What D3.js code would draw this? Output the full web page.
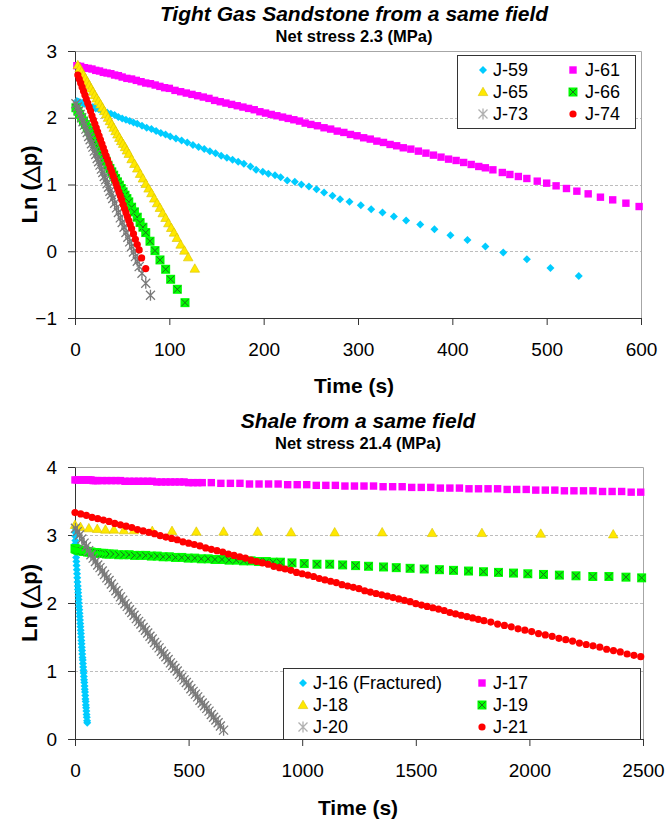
<!DOCTYPE html>
<html>
<head>
<meta charset="utf-8">
<script src="https://cdn.jsdelivr.net/npm/d3@7"></script>
<style>
    html, body { margin: 0; padding: 0; background: #fff; }
    svg { display: block; font-family: "Liberation Sans", Arial, sans-serif; }
</style>
</head>
<body>
<div id="chart"></div>
<script>
// ---------- top panel: tight gas sandstone ----------
var topXTicks = [0, 100, 200, 300, 400, 500, 600];
var topYTicks = [-1, 0, 1, 2, 3];
var topNames = ['J-59', 'J-61', 'J-65', 'J-66', 'J-73', 'J-74'];

var j59T = [2,4,6,8,10,13,16,19,22,25,28,31,34,38,42,46,50,54,58,62,66,71,76,81,86,91,96,101,107,113,119,125,131,137,143,149,155,161,167,173,179,
            186,192,199,205,212,218,225,233,240,248,256,264,273,281,291,303,314,326,338,351,366,381,398,416,435,454,479,504,534];
var j59V = [2.25,2.24,2.23,2.22,2.21,2.19,2.17,2.16,2.14,2.13,2.11,2.09,2.08,2.06,2.04,2.01,1.99,1.97,1.95,1.93,1.91,1.88,1.85,1.83,1.80,1.77,1.75,1.72,1.69,1.66,1.63,1.59,1.56,1.53,1.50,1.47,1.43,1.40,1.37,1.34,1.31,
            1.27,1.22,1.19,1.16,1.14,1.11,1.06,1.04,1.00,0.97,0.93,0.88,0.83,0.78,0.74,0.69,0.63,0.58,0.52,0.46,0.40,0.33,0.24,0.17,0.07,-0.02,-0.12,-0.25,-0.37];

var j61T = [2,6,10,14,18,22,26,30,34,38,42,46,50,55,60,65,70,75,80,85,90,95,100,106,112,118,124,130,136,142,148,154,160,166,172,178,184,190,196,202,208,214,220,226,232,238,244,250,
            257,264,271,278,285,292,299,306,313,320,327,334,341,348,356,364,372,380,388,396,404,412,420,428,435,443,453,461,470,479,490,500,510,521,532,544,557,570,584,598];
var j61V = [2.78,2.77,2.75,2.74,2.73,2.71,2.70,2.68,2.67,2.66,2.64,2.63,2.61,2.59,2.58,2.56,2.54,2.52,2.51,2.49,2.47,2.45,2.44,2.41,2.39,2.37,2.35,2.33,2.31,2.29,2.26,2.24,2.22,2.20,2.18,2.16,2.14,2.12,2.09,2.07,2.05,2.03,2.01,1.99,1.97,1.95,1.92,1.90,
            1.88,1.85,1.83,1.80,1.78,1.75,1.73,1.70,1.68,1.65,1.63,1.60,1.58,1.55,1.53,1.50,1.47,1.44,1.41,1.38,1.36,1.33,1.30,1.27,1.25,1.22,1.18,1.15,1.12,1.09,1.05,1.02,0.98,0.94,0.90,0.86,0.81,0.77,0.72,0.67];

var j65T = [3,5,7,9,11,13,15,17,19,21,23,25,27,29,31,33,35,37,39,41,43,45,47,49,51,53,55,57,60,63,66,69,72,75,78,81,84,87,90,93,96,99,102,105,108,112,116,120,127];
var j65V = [2.79,2.74,2.69,2.64,2.59,2.54,2.49,2.44,2.39,2.34,2.29,2.25,2.20,2.15,2.10,2.05,2.00,1.95,1.90,1.85,1.80,1.75,1.70,1.65,1.61,1.56,1.51,1.46,1.38,1.31,1.24,1.16,1.09,1.01,0.94,0.87,0.79,0.72,0.65,0.57,0.50,0.42,0.35,0.28,0.20,0.10,0.01,-0.09,-0.26];

var j66T = [1,3,5,7,9,11,13,15,17,19,21,23,25,27,29,31,33,35,37,39,41,43,45,47,49,51,53,55,57,60,63,66,69,72,75,79.5,84.8,90.1,96.1,101.4,108.5,116.6];
var j66V = [2.15,2.10,2.05,2.00,1.95,1.90,1.85,1.80,1.75,1.70,1.65,1.60,1.55,1.50,1.45,1.40,1.35,1.29,1.24,1.19,1.14,1.09,1.04,0.99,0.94,0.89,0.84,0.79,0.74,0.66,0.59,0.51,0.43,0.36,0.28,0.15,0.01,-0.13,-0.27,-0.42,-0.57,-0.77];

var j73T = [1,2.5,4,5.5,7,8.5,10,11.5,13,14.5,16,17.5,19,20.5,22,23.5,25,26.5,28,29.5,31,32.5,34,35.5,37,38.5,40,42,44,46,48,50,52,54,56,58,60,62,64,66,68,71,75,80];
var j73V = [2.21,2.16,2.10,2.05,2.00,1.94,1.89,1.83,1.78,1.72,1.67,1.61,1.56,1.50,1.45,1.39,1.34,1.29,1.23,1.18,1.12,1.07,1.01,0.96,0.90,0.85,0.79,0.72,0.65,0.58,0.50,0.43,0.36,0.28,0.21,0.14,0.07,-0.01,-0.08,-0.15,-0.23,-0.33,-0.48,-0.66];

var j74T = [3,4.5,6,7.5,9,10.5,12,13.5,15,16.5,18,19.5,21,22.5,24,25.5,27,28.5,30,31.5,33,34.5,36,37.5,39,40.5,42,43.5,45,46.5,48,49.5,51,52.5,54,55.5,57,58.5,60,62,64,66,68,70.6,75];
var j74V = [2.64,2.58,2.52,2.46,2.40,2.34,2.28,2.22,2.16,2.10,2.03,1.97,1.91,1.85,1.79,1.73,1.67,1.61,1.55,1.49,1.43,1.37,1.31,1.25,1.19,1.13,1.07,1.01,0.95,0.89,0.83,0.77,0.70,0.64,0.58,0.52,0.46,0.40,0.34,0.26,0.18,0.10,0.02,-0.10,-0.26];

// ---------- bottom panel: shale ----------
var botXTicks = [0, 500, 1000, 1500, 2000, 2500];
var botYTicks = [0, 1, 2, 3, 4];
var botNames = ['J-16 (Fractured)', 'J-17', 'J-18', 'J-19', 'J-20', 'J-21'];

var j16T = [0,0.5,1,1.5,2,3,4,5,6,7,8,9,10,11,12,13,14,15,16,17,18,19,20,21,22,23,24,25,26,27,28,29,30,31,32,33,34,35,36,37,38,39,40,41,42,43,44,45,46,47,48,49,50,51,52,53,54];
var j16V = [3.10,3.04,2.98,2.92,2.87,2.80,2.74,2.67,2.61,2.55,2.49,2.43,2.37,2.31,2.25,2.20,2.15,2.10,2.05,2.00,1.95,1.90,1.85,1.80,1.75,1.70,1.65,1.60,1.55,1.50,1.45,1.40,1.35,1.30,1.25,1.20,1.16,1.11,1.06,1.01,0.97,0.92,0.87,0.83,0.78,0.73,0.69,0.64,0.59,0.55,0.50,0.46,0.41,0.36,0.32,0.27,0.24];

var j17T = [0,10,20,30,40,50,60,70,80,90,100,120,140,160,180,200,220,240,260,280,300,320,340,360,380,400,420,440,460,480,500,520,540,560,
            600,642,684,726,768,810,852,894,936,978,1020,1062,1104,1146,1188,1230,1272,1314,1356,1398,1440,1482,1524,1566,1608,1650,1692,1734,1776,1818,1860,1902,1944,1986,2028,2070,2112,2154,2196,2238,2280,2322,2364,2406,2448,2490];
var j17V = [3.81,3.81,3.81,3.81,3.81,3.81,3.81,3.81,3.80,3.80,3.80,3.80,3.80,3.80,3.80,3.80,3.79,3.79,3.79,3.79,3.79,3.79,3.79,3.78,3.78,3.78,3.78,3.78,3.78,3.78,3.77,3.77,3.77,3.77,
            3.77,3.76,3.76,3.76,3.75,3.75,3.75,3.75,3.74,3.74,3.74,3.73,3.73,3.73,3.72,3.72,3.72,3.72,3.71,3.71,3.71,3.70,3.70,3.70,3.69,3.69,3.69,3.68,3.68,3.68,3.68,3.67,3.67,3.67,3.66,3.66,3.66,3.65,3.65,3.65,3.65,3.64,3.64,3.64,3.63,3.63];

var j18T = [0,24,61,98,134,171,215,259,340,427,534,654,804,951,1143,1352,1572,1791,2050,2369];
var j18V = [3.15,3.12,3.10,3.09,3.08,3.08,3.07,3.07,3.06,3.06,3.05,3.05,3.05,3.04,3.04,3.04,3.03,3.03,3.02,3.01];

var j19T = [0,4,8,12,16,20,25,30,36,42,48,55,62,70,78,87,96,106,116,127,138,150,170,192,215,238,262,286,311,336,362,388,415,442,470,498,527,556,586,616,647,678,710,742,775,808,842,872,904,
            955,1009,1065,1121,1178,1235,1292,1358,1414,1475,1537,1604,1666,1732,1798,1864,1930,1993,2062,2132,2205,2279,2350,2425,2494];
var j19V = [2.80,2.79,2.79,2.78,2.78,2.77,2.77,2.77,2.76,2.76,2.76,2.75,2.75,2.75,2.74,2.74,2.74,2.73,2.73,2.73,2.72,2.72,2.72,2.71,2.71,2.71,2.70,2.70,2.70,2.69,2.69,2.68,2.68,2.67,2.67,2.66,2.66,2.65,2.65,2.64,2.64,2.63,2.63,2.62,2.62,2.61,2.61,2.60,2.60,
            2.59,2.58,2.57,2.57,2.56,2.55,2.54,2.53,2.52,2.51,2.50,2.49,2.48,2.47,2.46,2.45,2.44,2.43,2.42,2.41,2.40,2.39,2.39,2.38,2.37];

var j20T = [2,10,20,30,40,50,60,70,80,90,100,110,120,130,140,150,160,170,180,190,200,210,220,230,240,250,260,270,280,290,300,310,320,330,340,350,360,370,380,390,400,410,420,430,440,450,460,470,480,490,500,510,520,530,540,550,560,570,580,590,600,610,620,630,640,654];
var j20V = [3.10,3.05,3.00,2.94,2.88,2.83,2.77,2.71,2.66,2.61,2.56,2.52,2.47,2.42,2.37,2.33,2.28,2.23,2.18,2.14,2.09,2.04,1.99,1.95,1.90,1.86,1.82,1.77,1.73,1.69,1.64,1.60,1.56,1.51,1.47,1.42,1.38,1.34,1.29,1.25,1.21,1.17,1.12,1.08,1.04,1.00,0.95,0.91,0.87,0.83,0.79,0.74,0.70,0.66,0.62,0.57,0.53,0.49,0.45,0.41,0.36,0.32,0.28,0.24,0.19,0.13];

var j21T = [0,25,50,75,100,125,150,175,200,225,250,275,300,325,350,375,400,425,450,475,500,525,550,575,600,625,650,675,700,725,750,775,800,825,850,875,900,925,950,975,1000,1025,1050,1075,1100,1125,1150,1175,1200,1225,1250,1275,1300,1325,1350,
            1375,1400,1425,1450,1475,1500,1525,1550,1575,1600,1625,1650,1675,1700,1725,1750,1775,1800,
            1830,1860,1890,1920,1950,1980,2010,2040,2070,2100,2130,2160,2190,2220,2250,2280,2310,2340,2370,2400,2430,2460,2490];
var j21V = [3.33,3.31,3.29,3.26,3.24,3.22,3.20,3.17,3.15,3.13,3.11,3.08,3.06,3.04,3.02,2.99,2.97,2.95,2.93,2.90,2.88,2.86,2.84,2.81,2.79,2.77,2.75,2.72,2.70,2.68,2.66,2.63,2.61,2.59,2.57,2.54,2.52,2.50,2.48,2.45,2.43,2.41,2.39,2.36,2.34,2.32,2.30,2.27,2.25,2.23,2.21,2.18,2.16,2.14,2.12,
            2.10,2.08,2.06,2.04,2.02,1.99,1.97,1.95,1.93,1.91,1.89,1.86,1.84,1.82,1.80,1.78,1.76,1.74,
            1.72,1.69,1.67,1.65,1.62,1.60,1.58,1.55,1.53,1.51,1.48,1.46,1.44,1.41,1.39,1.37,1.35,1.32,1.30,1.28,1.25,1.23,1.21];

var markerKinds = ['diamond', 'square', 'triangle', 'squareX', 'asterisk', 'circle'];
var markerColors = ['#00ccff', '#ff00ff', '#ffe800', '#00ff00', '#7a7a7a', '#ff0000'];

// ---------- markers ----------
var markers = {
    diamond: function (g, c) {
        g.append('path').attr('d', 'M0,-4L4,0L0,4L-4,0Z').attr('fill', c);
    },
    square: function (g, c) {
        g.append('rect').attr('x', -3.7).attr('y', -3.7).attr('width', 7.4).attr('height', 7.4).attr('fill', c);
    },
    triangle: function (g, c) {
        g.append('path').attr('d', 'M0,-4.8L4.8,3.6L-4.8,3.6Z').attr('fill', c)
            .attr('stroke', '#d9c200').attr('stroke-width', 0.6);
    },
    squareX: function (g, c) {
        g.append('rect').attr('x', -4.5).attr('y', -4.5).attr('width', 9).attr('height', 9).attr('fill', c);
        g.append('path').attr('d', 'M-3.5,-3.5L3.5,3.5M-3.5,3.5L3.5,-3.5')
            .attr('stroke', '#1f6b1f').attr('stroke-width', 1);
    },
    asterisk: function (g, c) {
        g.append('path').attr('d', 'M-4.5,-4.5L4.5,4.5M-4.5,4.5L4.5,-4.5M0,-5.5L0,5.5')
            .attr('stroke', c).attr('stroke-width', 1.3).attr('fill', 'none');
    },
    circle: function (g, c) {
        g.append('circle').attr('r', 3.6).attr('fill', c);
    }
};

var svg = d3.select('#chart').append('svg')
    .attr('width', 668)
    .attr('height', 825);

function drawPanel(p) {
    var x = d3.scaleLinear().domain(p.xDomain).range([p.left, p.right]);
    var y = d3.scaleLinear().domain(p.yDomain).range([p.bottom, p.top]);
    var g = svg.append('g');

    // dashed gridlines on the inner ticks
    g.selectAll('line.grid')
        .data(p.yTicks.filter(function (d) { return d !== p.yDomain[0] && d !== p.yDomain[1]; }))
        .join('line')
        .attr('class', 'grid')
        .attr('x1', p.left).attr('x2', p.right)
        .attr('y1', function (d) { return Math.round(y(d)) + 0.5; })
        .attr('y2', function (d) { return Math.round(y(d)) + 0.5; })
        .attr('stroke', '#bdbdbd')
        .attr('stroke-dasharray', '3,2');

    // plot-area frame (top / right)
    g.append('path')
        .attr('d', 'M' + p.left + ',' + (p.top + 0.5) + 'H' + (p.right + 0.5) + 'V' + p.bottom)
        .attr('fill', 'none')
        .attr('stroke', '#a6a6a6');

    var fmt = d3.format('d');
    var axX = g.append('g')
        .attr('transform', 'translate(0,' + p.bottom + ')')
        .call(d3.axisBottom(x).tickValues(p.xTicks).tickFormat(fmt).tickSize(7).tickSizeOuter(0).tickPadding(18));
    var axY = g.append('g')
        .attr('transform', 'translate(' + p.left + ',0)')
        .call(d3.axisLeft(y).tickValues(p.yTicks).tickFormat(fmt).tickSize(7).tickSizeOuter(0).tickPadding(11));
    [axX, axY].forEach(function (a) {
        a.attr('font-family', null).attr('font-size', 19);
        a.selectAll('line').attr('stroke', '#333');
        a.select('.domain').attr('stroke', '#333');
        a.selectAll('text').attr('fill', '#000');
    });

    // series, drawn in legend order
    p.series.forEach(function (s) {
        g.append('g').selectAll('g')
            .data(d3.zip(s.t, s.v))
            .join('g')
            .attr('transform', function (d) { return 'translate(' + x(d[0]) + ',' + y(d[1]) + ')'; })
            .each(function () { markers[s.kind](d3.select(this), s.color); });
    });

    // titles
    g.append('text')
        .attr('x', p.cx).attr('y', p.titleY)
        .attr('text-anchor', 'middle')
        .attr('font-size', 21).attr('font-weight', 'bold').attr('font-style', 'italic')
        .text(p.title);
    g.append('text')
        .attr('x', p.cx).attr('y', p.subY)
        .attr('text-anchor', 'middle')
        .attr('font-size', 16.5).attr('font-weight', 'bold')
        .text(p.subtitle);
    g.append('text')
        .attr('x', p.cx).attr('y', p.xTitleY)
        .attr('text-anchor', 'middle')
        .attr('font-size', 21).attr('font-weight', 'bold')
        .text('Time (s)');
    g.append('text')
        .attr('transform', 'translate(37,' + ((p.top + p.bottom) / 2) + ') rotate(-90)')
        .attr('text-anchor', 'middle')
        .attr('font-size', 22).attr('font-weight', 'bold')
        .text('Ln (\u25B3p)');

    // legend
    var L = p.legend;
    var lg = g.append('g');
    lg.append('rect')
        .attr('x', L.x + 0.5).attr('y', L.y + 0.5)
        .attr('width', L.w).attr('height', L.h)
        .attr('fill', '#fff').attr('stroke', '#333');
    p.series.forEach(function (s, i) {
        var col = i % 2, row = Math.floor(i / 2);
        var my = L.rowY[row];
        var m = lg.append('g').attr('transform', 'translate(' + L.markX[col] + ',' + my + ')');
        markers[s.kind](m, s.kind === 'asterisk' ? '#b0b0b0' : s.color);
        lg.append('text')
            .attr('x', L.textX[col]).attr('y', my)
            .attr('dy', '0.36em')
            .attr('font-size', 18)
            .text(s.name);
    });
}

function buildSeries(names, ts, vs) {
    return names.map(function (n, i) {
        return { name: n, t: ts[i], v: vs[i], kind: markerKinds[i], color: markerColors[i] };
    });
}

drawPanel({
    title: 'Tight Gas Sandstone from a same field',
    subtitle: 'Net stress 2.3 (MPa)',
    xDomain: [0, 600], yDomain: [-1, 3],
    xTicks: topXTicks, yTicks: topYTicks,
    left: 75, right: 641, top: 51, bottom: 318,
    cx: 354, titleY: 21, subY: 42, xTitleY: 393,
    series: buildSeries(topNames, [j59T, j61T, j65T, j66T, j73T, j74T], [j59V, j61V, j65V, j66V, j73V, j74V]),
    legend: { x: 457, y: 55, w: 178, h: 73, rowY: [70, 92, 114], markX: [483, 573], textX: [493, 585] }
});

drawPanel({
    title: 'Shale from a same field',
    subtitle: 'Net stress 21.4 (MPa)',
    xDomain: [0, 2500], yDomain: [0, 4],
    xTicks: botXTicks, yTicks: botYTicks,
    left: 75, right: 643, top: 467, bottom: 739,
    cx: 358, titleY: 428, subY: 449, xTitleY: 815,
    series: buildSeries(botNames, [j16T, j17T, j18T, j19T, j20T, j21T], [j16V, j17V, j18V, j19V, j20V, j21V]),
    legend: { x: 283, y: 668, w: 357, h: 71, rowY: [683, 705, 727], markX: [303, 482], textX: [313, 493] }
});
</script>
</body>
</html>
